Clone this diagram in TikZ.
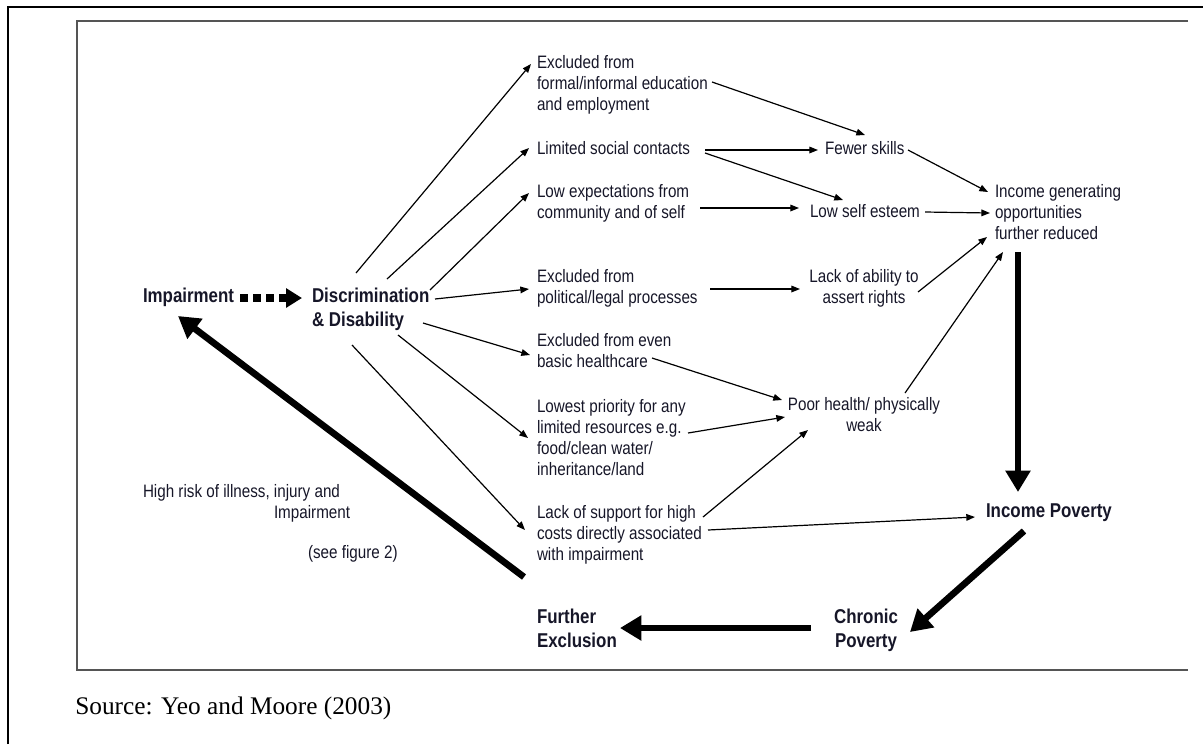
\documentclass[tikz,border=0pt]{standalone}
\usepackage{fontspec}
\usetikzlibrary{arrows.meta,calc}
\newfontfamily\dfont[FakeStretch=0.845]{Liberation Sans}
\newfontfamily\srcfont{Liberation Serif}
\definecolor{txt}{RGB}{22,22,40}
\definecolor{framegray}{RGB}{85,85,85}
\begin{document}
\begin{tikzpicture}[x=0.75pt,y=-0.75pt,
  lbl/.style={font=\dfont\fontsize{13.5}{15.75}\selectfont, text=txt, inner sep=0pt, outer sep=0pt, align=left, anchor=north west},
  lblc/.style={lbl, align=center, anchor=north},
  boldlbl/.style={font=\dfont\bfseries\fontsize{15}{18}\selectfont, text=txt, inner sep=0pt, outer sep=0pt, align=left, anchor=north west},
  thinarrow/.style={line width=0.9pt, -{Triangle[length=6.5pt,width=5pt]}},
  thickarrow/.style={line width=5pt, -{Triangle[length=16pt,width=18pt]}},
]
\useasboundingbox (0,0) rectangle (1203,744);
% frames
\draw[line width=1.5pt] (8,744) -- (8,6.5) -- (1203,6.5);
\draw[framegray, line width=1.1pt] (1188,21) -- (77,21) -- (77,670) -- (1188,670);

% nodes
\node[boldlbl] (impair) at (143,287.7) {Impairment};
\node[boldlbl] (disc) at (312,287.7) {Discrimination\\\& Disability};
\node[lbl] (formal) at (537,55.5) {Excluded from\\formal/informal education\\and employment};
\node[lbl] (social) at (537,141) {Limited social contacts};
\node[lbl] (lowexp) at (537,184) {Low expectations from\\community and of self};
\node[lbl] (political) at (537,269) {Excluded from\\political/legal processes};
\node[lbl] (health) at (537,333) {Excluded from even\\basic healthcare};
\node[lbl] (priority) at (537,399) {Lowest priority for any\\limited resources e.g.\\food/clean water/\\inheritance/land};
\node[lbl] (support) at (537,505.5) {Lack of support for high\\costs directly associated\\with impairment};
\node[lbl] (fewer) at (825,141) {Fewer skills};
\node[lbl] (esteem) at (810,204.5) {Low self esteem};
\node[lblc] (assert) at (864,269) {Lack of ability to\\assert rights};
\node[lblc] (poor) at (864,397) {Poor health/ physically\\weak};
\node[lbl] (income) at (995,184) {Income generating\\opportunities\\further reduced};
\node[boldlbl] (incpov) at (986,503.7) {Income Poverty};
\node[boldlbl, align=center, anchor=north] (chronic) at (866,608.7) {Chronic\\Poverty};
\node[boldlbl] (further) at (537,608.7) {Further\\Exclusion};
\node[lbl] (risk) at (143,484) {High risk of illness, injury and\\\hspace*{98.25pt}Impairment};
\node[lbl] (seefig) at (308,545) {(see figure 2)};
\node[font=\srcfont\fontsize{19}{22}\selectfont, anchor=base west, inner sep=0pt] (source) at (75,714) {Source: Yeo and Moore (2003)};

% dotted arrow
\draw[line width=6pt, dash pattern=on 6pt off 3.75pt, -{Triangle[length=12pt,width=14pt]}]
  ([shift={(97,10.3)}]impair.north west) -- ([shift={(-10,10.3)}]disc.north west);

% from discrimination
\draw[thinarrow] ([shift={(44,-14.7)}]disc.north west) -- ([shift={(-6,8.5)}]formal.north west);
\draw[thinarrow] ([shift={(75,-8.7)}]disc.north west) -- ([shift={(-8,7)}]social.north west);
\draw[thinarrow] ([shift={(118,2.3)}]disc.north west) -- ([shift={(-8,9)}]lowexp.north west);
\draw[thinarrow] ([shift={(123,11.3)}]disc.north west) -- ([shift={(-8,20)}]political.north west);
\draw[thinarrow] ([shift={(111,35.3)}]disc.north west) -- ([shift={(-7,22)}]health.north west);
\draw[thinarrow] ([shift={(86,47.3)}]disc.north west) -- ([shift={(-9,39)}]priority.north west);
\draw[thinarrow] ([shift={(40,57.3)}]disc.north west) -- ([shift={(-12,24.5)}]support.north west);

% middle column
\draw[thinarrow] ([shift={(175,26.5)}]formal.north west) -- ([shift={(40,-6)}]fewer.north west);
\draw[thinarrow] ([shift={(168,9)}]social.north west) -- ([shift={(-7,9)}]fewer.north west);
\draw[thinarrow] ([shift={(168,12)}]social.north west) -- ([shift={(33,-4.5)}]esteem.north west);
\draw[thinarrow] ([shift={(163,24)}]lowexp.north west) -- ([shift={(-11,3.5)}]esteem.north west);
\draw[thinarrow] ([shift={(173,20)}]political.north west) -- ([shift={(-64,20)}]assert.north);
\draw[thinarrow] ([shift={(115,25)}]health.north west) -- ([shift={(-82,3)}]poor.north);
\draw[thinarrow] ([shift={(151,34)}]priority.north west) -- ([shift={(-79,20)}]poor.north);
\draw[thinarrow] ([shift={(166,11.5)}]support.north west) -- ([shift={(-56,33)}]poor.north);
\draw[thinarrow] ([shift={(171,24.5)}]support.north west) -- ([shift={(-11,13.3)}]incpov.north west);

% to income generating
\draw[thinarrow] ([shift={(83,9)}]fewer.north west) -- ([shift={(-7,8)}]income.north west);
\draw[thinarrow] ([shift={(115,7.5)}]esteem.north west) -- ([shift={(-5,29)}]income.north west);
\draw[thinarrow] ([shift={(54,23)}]assert.north) -- ([shift={(-8,53)}]income.north west);
\draw[thinarrow] ([shift={(41,-4)}]poor.north) -- ([shift={(8,68)}]income.north west);

% thick cycle
\draw[thickarrow] ([shift={(23,68)}]income.north west) -- ([shift={(32,-11.7)}]incpov.north west);
\draw[thickarrow] ([shift={(38,27.3)}]incpov.north west) -- ([shift={(44,23.3)}]chronic.north);
\draw[thickarrow] ([shift={(-55,19.3)}]chronic.north) -- ([shift={(83,19.3)}]further.north west);
\draw[thickarrow] ([shift={(-13,-31.7)}]further.north west) -- ([shift={(35,28.3)}]impair.north west);
\end{tikzpicture}
\end{document}
